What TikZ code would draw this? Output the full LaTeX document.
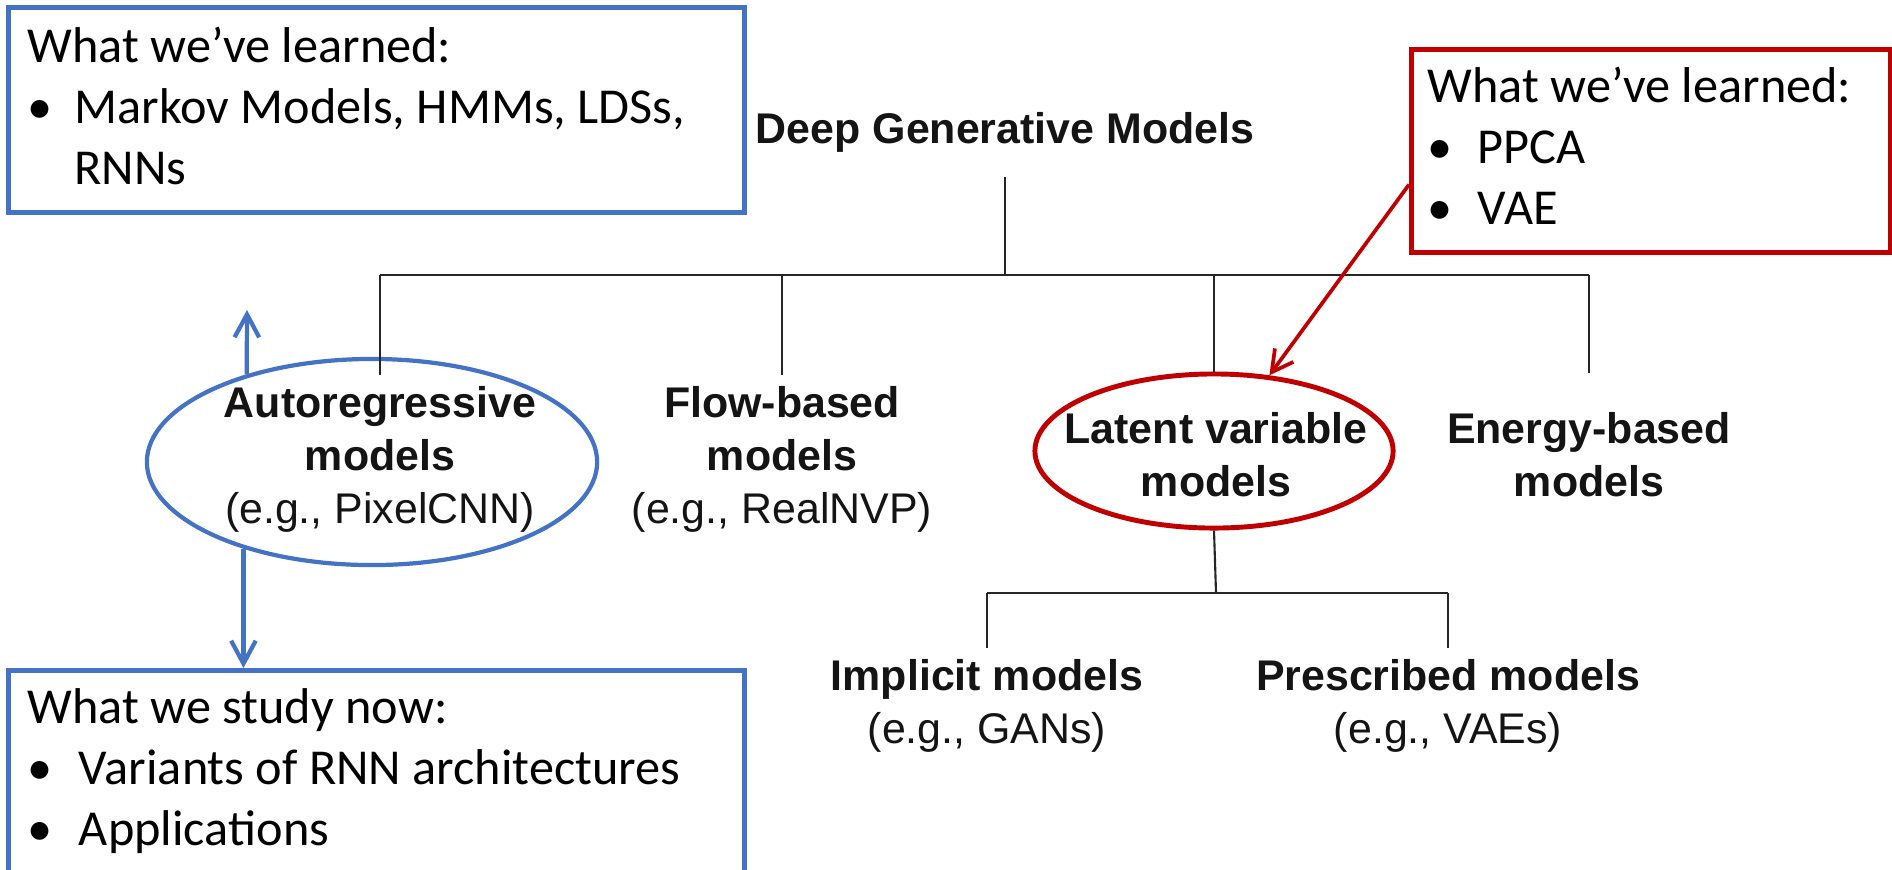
\documentclass[tikz,border=0pt]{standalone}
\usepackage{fontspec}
\setmainfont{Liberation Sans}
\newfontfamily\boxfont{Carlito}
\usetikzlibrary{shapes.geometric,arrows.meta}
\definecolor{obl}{HTML}{4472C4}
\definecolor{ored}{HTML}{C00000}
\newcommand{\fl}[1]{\rule{0pt}{#1}}
\newcommand{\bul}[1]{\makebox[#1][l]{\textbullet}}
\begin{document}
\begin{tikzpicture}[x=0.01cm,y=-0.01cm,
  lbl/.style={font=\fontsize{12.2pt}{15pt}\selectfont, align=center, inner sep=0pt, anchor=north, text=black!92},
  tree/.style={line width=0.6pt, black!85},
  bluebox/.style={draw=obl, line width=1.3pt, anchor=north west, inner sep=0pt},
  redbox/.style={draw=ored, line width=1.4pt, anchor=north west, inner sep=0pt},
  boxtxt/.style={font=\boxfont\fontsize{14.3pt}{17.35pt}\selectfont, align=left, anchor=north west, inner sep=0pt},
  blueell/.style={draw=obl, line width=1.2pt, ellipse, inner sep=0pt},
  redell/.style={draw=ored, line width=1.4pt, ellipse, inner sep=0pt},
  bluearrow/.style={draw=obl, line width=1.2pt, -{Straight Barb[length=6.5pt,width=7pt]}},
  redarrow/.style={draw=ored, line width=1.05pt, -{Straight Barb[length=6pt,width=6.5pt]}}
]
\useasboundingbox (0,0) rectangle (1892,869);

% boxes
\node[bluebox, minimum width=7.36cm, minimum height=2.05cm] (tbox) at (6,5) {};
\node[bluebox, minimum width=7.36cm, minimum height=2.20cm] (bbox) at (6,668) {};
\node[redbox, minimum width=4.79cm, minimum height=2.03cm] (rbox) at (1409,47) {};

\node[boxtxt] (ttxt) at (27,12.8) {\fl{14pt}What we’ve learned:\\
  \bul{13.3pt}Markov Models, HMMs, LDSs,\\
  \hspace*{13.3pt}RNNs};
\node[boxtxt] (rtxt) at (1427,52.8) {\fl{14pt}What we’ve learned:\\
  \bul{14.3pt}PPCA\\
  \bul{14.3pt}VAE};
\node[boxtxt] (btxt) at (27,673.8) {\fl{14pt}What we study now:\\
  \bul{14.6pt}Variants of RNN architectures\\
  \bul{14.6pt}Applications};

% ellipses
\node[blueell, minimum width=4.50cm, minimum height=2.06cm] (are) at (372,462) {};
\node[redell, minimum width=3.58cm, minimum height=1.54cm] (lve) at (1214,451) {};

% labels
\node[lbl, anchor=base] (dgm) at (1005,143) {\textbf{Deep Generative Models}};
\node[lbl] (ar) at (380,374.8) {\fl{12pt}\textbf{Autoregressive}\\\textbf{models}\\(e.g., PixelCNN)};
\node[lbl] (fb) at (782,374.8) {\fl{12pt}\textbf{Flow-based}\\\textbf{models}\\(e.g., RealNVP)};
\node[lbl] (lv) at (1216,400.8) {\fl{12pt}\textbf{Latent variable}\\\textbf{models}};
\node[lbl] (eb) at (1589,400.8) {\fl{12pt}\textbf{Energy-based}\\\textbf{models}};
\node[lbl] (im) at (987,647.8) {\fl{12pt}\textbf{Implicit models}\\(e.g., GANs)};
\node[lbl] (pr) at (1448,647.8) {\fl{12pt}\textbf{Prescribed models}\\(e.g., VAEs)};

% tree
\coordinate (j1) at (1005,275);
\coordinate (j2) at (1216,593);
\draw[tree] ([yshift=-0.34cm]dgm.base) -- (j1);
\draw[tree] (ar.north |- j1) -- (eb.north |- j1);
\draw[tree] (ar.north |- j1) -- (ar.north);
\draw[tree] (fb.north |- j1) -- (fb.north);
\draw[tree] (lve.north |- j1) -- (lve.north);
\draw[tree] (eb.north |- j1) -- ([yshift=0.28cm]eb.north);
\draw[tree] (lve.south) -- (j2);
\draw[tree] (im.north |- j2) -- (pr.north |- j2);
\draw[tree] (im.north |- j2) -- (im.north);
\draw[tree] (pr.north |- j2) -- (pr.north);

% arrows
\coordinate (upend) at (247,310);
\draw[bluearrow] (are.145.5) -- (upend);
\draw[bluearrow] (are.214.5) -- (are.214.5 |- bbox.north);
\draw[redarrow] ([yshift=-0.335cm]rbox.west) -- (lve);
\end{tikzpicture}
\end{document}
